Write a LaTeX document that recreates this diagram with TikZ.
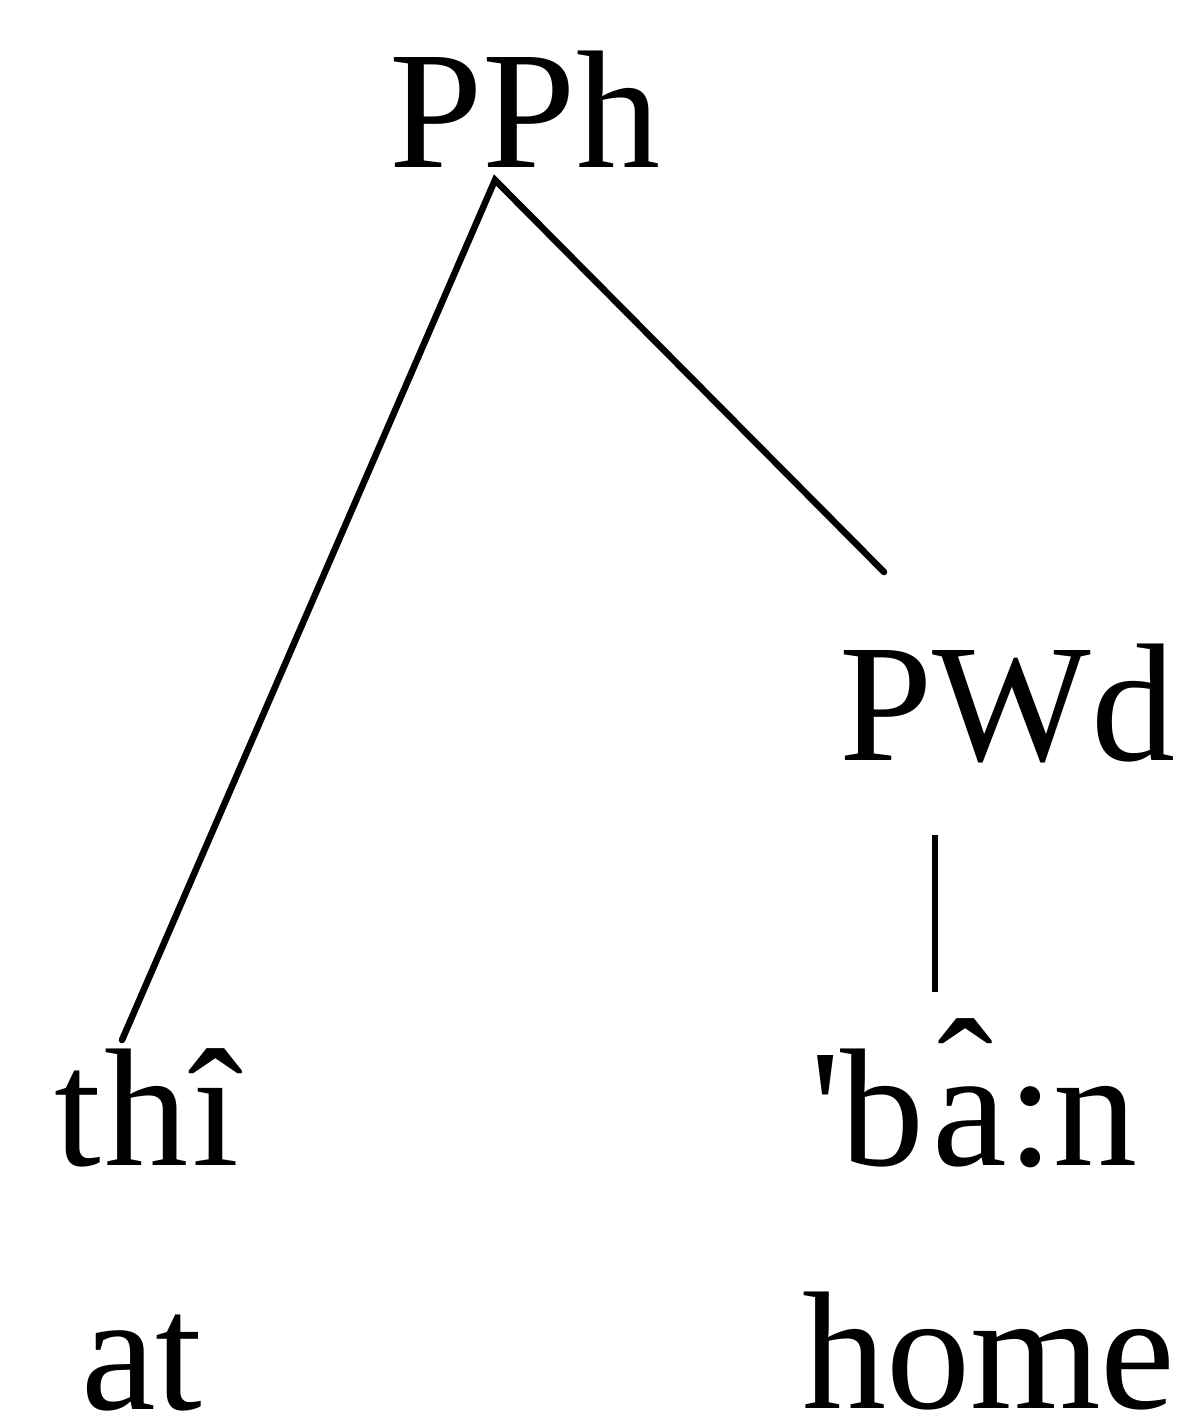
\documentclass[tikz,border=0pt]{standalone}
\usepackage{fontspec}
\setmainfont{Liberation Serif}
% same face without the TeX quote mapping, for the straight stress mark
\newfontfamily\stressfont{Liberation Serif}[Ligatures=TeXOff]
% a with a circumflex set high above it
\newcommand{\highhat}{\rlap{\hspace{5pt}\raisebox{30pt}{ˆ}}a}
\begin{document}
\begin{tikzpicture}[x=1pt,y=-1pt,
  lbl/.style={anchor=base west,inner sep=0pt,text depth=0pt,font=\fontsize{168}{200}\selectfont},
  edge/.style={line width=6.5pt,line cap=round,line join=miter}]
\useasboundingbox (0,0) rectangle (1190,1427);
% labels of the tree
\node[lbl] (pph) at (389,167) {PPh};
\node[lbl] (pwd) at (839,760) {PWd};
\node[lbl] (thi) at (54,1165) {t\kern4pt h\kern4pt î};
\node[lbl] (ban) at (810,1165) {{\stressfont\char"27}b\kern8pt\highhat:n};
\node[lbl] (at) at (81,1409) {at};
\node[lbl] (home) at (802,1408) {home};
% branch end points
\coordinate (top) at (495,180);
\coordinate (left) at (122,1040);
\coordinate (right) at (884,572);
\coordinate (wdtop) at (935,835);
\coordinate (wdbot) at (935,992);
% branches
\draw[edge] (left) -- (top) -- (right);
\draw[line width=6pt] (wdtop) -- (wdbot);
\end{tikzpicture}
\end{document}
